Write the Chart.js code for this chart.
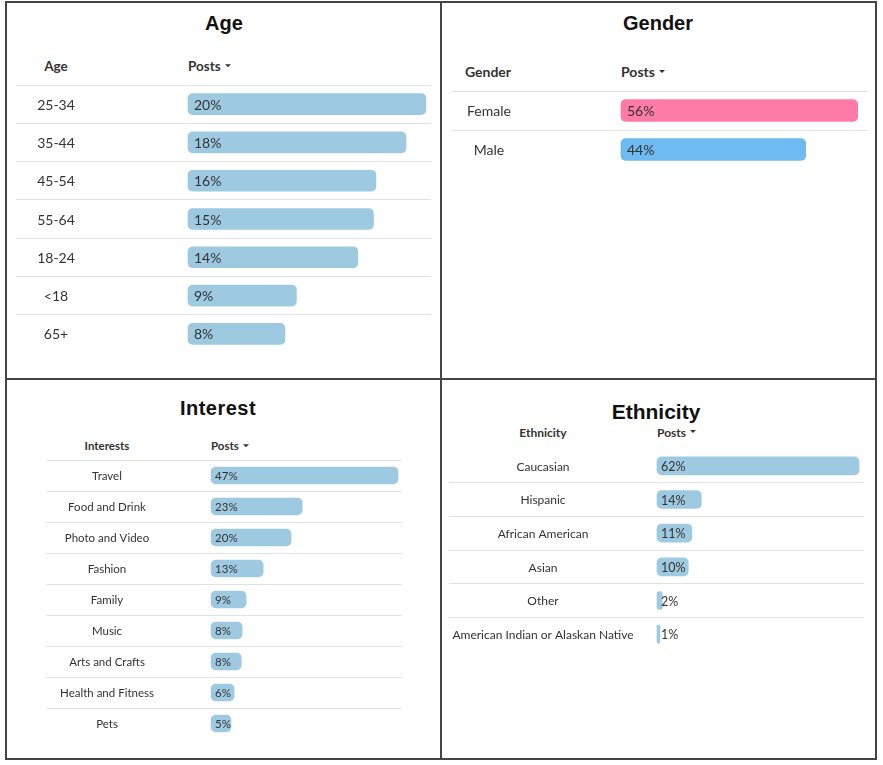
<!DOCTYPE html>
<html>
<head>
<meta charset="utf-8">
<script src="https://cdn.jsdelivr.net/npm/chart.js@4.4.0/dist/chart.umd.min.js"></script>
<style>
  body { margin: 0; background: #fff; width: 883px; height: 765px; position: relative; overflow: hidden; font-family: Lato, sans-serif; color: #333; }
  .frame { position: absolute; border: 2px solid #444; box-sizing: border-box; }
  .vline { position: absolute; background: #444; }
  .title { position: absolute; font-family: "Liberation Sans", Arial, sans-serif; font-weight: bold; color: #111; transform: translate(-50%, -50%); line-height: 1; white-space: nowrap; }
  .head { position: absolute; font-weight: bold; color: #333; transform: translateY(-50%); line-height: 1; white-space: nowrap; }
  .head.c { transform: translate(-50%, -50%); }
  .caret { display: inline-block; width: 0; height: 0; border-left: 3px solid transparent; border-right: 3px solid transparent; border-top: 3px solid #333; vertical-align: middle; margin-left: 4px; position: relative; top: -2px; }
  canvas { position: absolute; }
</style>
</head>
<body>
<div class="frame" style="left:5px; top:1px; width:872px; height:759px;"></div>
<div class="vline" style="left:440px; top:1px; width:2px; height:759px;"></div>
<div class="vline" style="left:5px; top:378px; width:872px; height:2px;"></div>

<div class="title" style="left:224px; top:23px; font-size:20px;">Age</div>
<div class="head c" style="left:56px; top:67px; font-size:13.5px;">Age</div>
<div class="head" style="left:188px; top:67px; font-size:13.5px;">Posts<span class="caret"></span></div>
<canvas id="ageChart" width="415" height="268" style="left:16px; top:85px;"></canvas>

<div class="title" style="left:658px; top:23px; font-size:20px;">Gender</div>
<div class="head c" style="left:488px; top:72px; font-size:14px;">Gender</div>
<div class="head" style="left:621px; top:72px; font-size:14px;">Posts<span class="caret"></span></div>
<canvas id="genderChart" width="416" height="78" style="left:451px; top:91px;"></canvas>

<div class="title" style="left:218px; top:408px; font-size:20px; letter-spacing:0.5px;">Interest</div>
<div class="head c" style="left:107px; top:446px; font-size:11.5px;">Interests</div>
<div class="head" style="left:211px; top:446px; font-size:11.5px;">Posts<span class="caret"></span></div>
<canvas id="interestChart" width="356" height="279" style="left:46px; top:460px;"></canvas>

<div class="title" style="left:656px; top:411px; font-size:21px;">Ethnicity</div>
<div class="head c" style="left:543px; top:433px; font-size:12px;">Ethnicity</div>
<div class="head" style="left:657px; top:433px; font-size:12px;">Posts<span class="caret"></span></div>
<canvas id="ethnicityChart" width="415" height="202" style="left:449px; top:449px;"></canvas>

<script>
// Datos (porcentaje de posts)
const ageLabels = ['25-34', '35-44', '45-54', '55-64', '18-24', '<18', '65+'];
const ageValues = [19.75, 18.1, 15.6, 15.4, 14.1, 9.0, 8.05];

const genderLabels = ['Female', 'Male'];
const genderValues = [56, 43.7];

const interestLabels = ['Travel', 'Food and Drink', 'Photo and Video', 'Fashion', 'Family', 'Music', 'Arts and Crafts', 'Health and Fitness', 'Pets'];
const interestValues = [47, 22.9, 20.1, 13.1, 8.8, 7.8, 7.6, 5.8, 5.0];

const ethnicityLabels = ['Caucasian', 'Hispanic', 'African American', 'Asian', 'Other', 'American Indian or Alaskan Native'];
const ethnicityValues = [62, 13.6, 10.7, 9.6, 1.6, 0.9];

const lightBlue = 'rgb(158, 202, 225)';

// Dibuja la columna de etiquetas y el texto de porcentaje dentro de cada barra
const tableText = {
    id: 'tableText',
    afterDatasetsDraw(chart, args, opts) {
        const ctx = chart.ctx;
        const x = chart.scales.x, y = chart.scales.y;
        const base = x.getPixelForValue(0);
        ctx.save();
        ctx.textBaseline = 'middle';
        ctx.fillStyle = '#333';
        chart.data.labels.forEach(function (label, i) {
            const py = y.getPixelForValue(i);
            ctx.font = opts.labelSize + 'px Lato';
            ctx.textAlign = 'center';
            ctx.fillText(label, opts.labelX, py + 1);
            ctx.textAlign = 'left';
            ctx.font = opts.valueSize + 'px Lato';
            ctx.fillText(Math.round(chart.data.datasets[0].data[i]) + '%', base + opts.valuePad, py + 1);
        });
        ctx.restore();
    }
};

function makeTable(id, labels, values, colors, cfg) {
    new Chart(document.getElementById(id), {
        type: 'bar',
        data: {
            labels: labels,
            datasets: [{
                data: values,
                backgroundColor: colors,
                borderRadius: 5,
                borderSkipped: false,
                barThickness: cfg.thickness
            }]
        },
        options: {
            indexAxis: 'y',
            responsive: false,
            animation: false,
            layout: { padding: 0 },
            scales: {
                x: { display: false, min: cfg.min, max: cfg.max },
                y: {
                    offset: true,
                    ticks: { display: false },
                    border: { display: false },
                    grid: {
                        drawTicks: false,
                        lineWidth: 1,
                        // sin linea bajo la ultima fila
                        color: c => c.index === undefined ? 'rgba(0,0,0,0)' : '#e2e2e2'
                    },
                    afterFit: s => { s.width = 0; }
                }
            },
            plugins: {
                legend: { display: false },
                tooltip: { enabled: false },
                tableText: { labelX: cfg.labelX, labelSize: cfg.labelSize, valueSize: cfg.valueSize, valuePad: cfg.valuePad }
            }
        },
        plugins: [tableText]
    });
}

makeTable('ageChart', ageLabels, ageValues, lightBlue,
    { min: -14.27, max: 20.17, thickness: 21, labelX: 40, labelSize: 14, valueSize: 14, valuePad: 6 });
makeTable('genderChart', genderLabels, genderValues, ['rgb(255, 123, 167)', 'rgb(109, 187, 241)'],
    { min: -40.2, max: 58.2, thickness: 22, labelX: 38, labelSize: 14, valueSize: 14, valuePad: 6 });
makeTable('interestChart', interestLabels, interestValues, lightBlue,
    { min: -41.5, max: 48.0, thickness: 17, labelX: 61, labelSize: 11.5, valueSize: 11.5, valuePad: 4 });
makeTable('ethnicityChart', ethnicityLabels, ethnicityValues, lightBlue,
    { min: -63.8, max: 63.5, thickness: 18, labelX: 94, labelSize: 12, valueSize: 12.5, valuePad: 4 });
</script>
</body>
</html>
